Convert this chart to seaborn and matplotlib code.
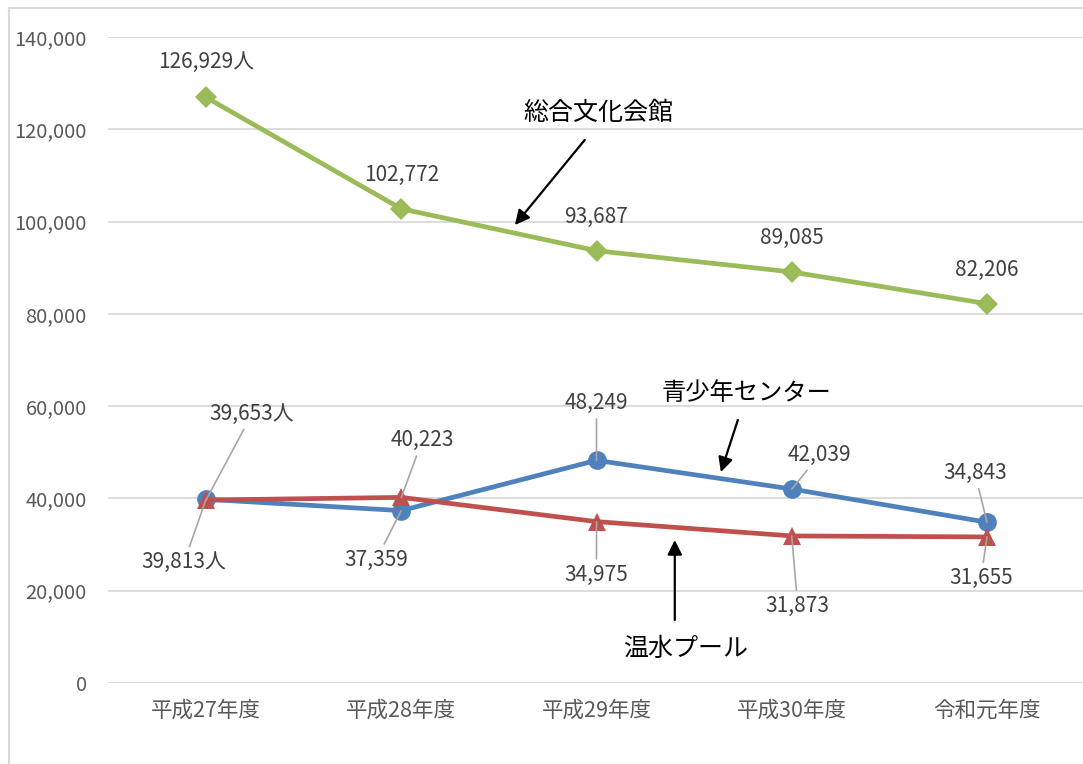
import matplotlib
matplotlib.use("Agg")
import matplotlib.pyplot as plt
from matplotlib.lines import Line2D
from matplotlib.ticker import StrMethodFormatter
import seaborn as sns
import pandas as pd

# ---- data ----
years = ["平成27年度", "平成28年度", "平成29年度", "平成30年度", "令和元年度"]
youth_center = [39813, 37359, 48249, 42039, 34843]      # 青少年センター
heated_pool = [39653, 40223, 34975, 31873, 31655]       # 温水プール
culture_hall = [126929, 102772, 93687, 89085, 82206]    # 総合文化会館
series_names = ["青少年センター", "温水プール", "総合文化会館"]
y_ticks = [0, 20000, 40000, 60000, 80000, 100000, 120000, 140000]

sns.set_theme(style="white")
plt.rcParams["font.family"] = ["Noto Sans CJK JP", "DejaVu Sans"]

df = pd.DataFrame({
    "year": years * 3,
    "value": youth_center + heated_pool + culture_hall,
    "facility": [series_names[0]] * 5 + [series_names[1]] * 5 + [series_names[2]] * 5,
})

colors = {series_names[0]: "#4F81BD", series_names[1]: "#C0504D", series_names[2]: "#9BBB59"}
markers = {series_names[0]: "o", series_names[1]: "^", series_names[2]: "D"}
msizes = {series_names[0]: 13.5, series_names[1]: 13.5, series_names[2]: 11}

fig = plt.figure(figsize=(10.83, 7.64), dpi=100)
ax = fig.add_axes([108.4 / 1083, 1 - 683 / 764, 976.2 / 1083, 646 / 764])

for name in series_names:
    sub = df[df["facility"] == name]
    sns.lineplot(data=sub, x="year", y="value", color=colors[name], marker=markers[name],
                 markersize=msizes[name], markeredgewidth=0, linewidth=3.4,
                 sort=False, errorbar=None, legend=False, ax=ax)

ax.set_xlim(-0.5, 4.5)
ax.set_ylim(0, 140000)
ax.set_yticks(y_ticks)
ax.yaxis.set_major_formatter(StrMethodFormatter("{x:,.0f}"))
ax.grid(axis="y", color="#D9D9D9", linewidth=1.3)
ax.grid(axis="x", visible=False)
ax.set_axisbelow(True)
for s in ax.spines.values():
    s.set_visible(False)
ax.tick_params(axis="y", length=0, pad=15.5, labelsize=14.5, labelcolor="#595959")
ax.tick_params(axis="x", length=0, pad=12, labelsize=15.5, labelcolor="#595959")
ax.set_xlabel("")
ax.set_ylabel("")

# ---- data labels (offsets in pixels, y up) ----
label_color = "#404040"
leader = dict(arrowstyle="-", color="#A6A6A6", lw=1.2, shrinkA=1, shrinkB=0)

green_off = [(0, 35), (0, 34), (0, 34), (0, 34), (0, 34)]
blue_off = [(-22, -63), (-25, -49), (0, 57), (28, 34), (-12, 49)]
red_off = [(46, 86), (21, 57), (0, -53), (6, -70), (-6, -41)]

def fmt(v, i):
    return f"{v:,}" + ("人" if i == 0 else "")

lab_fs = 15
for i, v in enumerate(culture_hall):
    ax.annotate(fmt(v, i), xy=(years[i], v), xytext=green_off[i], textcoords="offset pixels",
                ha="center", va="center", fontsize=lab_fs, color=label_color, zorder=6)
for i, v in enumerate(youth_center):
    ax.annotate(fmt(v, i), xy=(years[i], v), xytext=blue_off[i], textcoords="offset pixels",
                ha="center", va="center", fontsize=lab_fs, color=label_color, zorder=6,
                arrowprops=leader)
for i, v in enumerate(heated_pool):
    ax.annotate(fmt(v, i), xy=(years[i], v), xytext=red_off[i], textcoords="offset pixels",
                ha="center", va="center", fontsize=lab_fs, color=label_color, zorder=6,
                arrowprops=leader)

# ---- callout arrows with series names ----
arrow = dict(arrowstyle="-|>", color="black", lw=1.6, mutation_scale=22, shrinkA=0, shrinkB=0)
ax.annotate("", xy=(1.582, 99250), xytext=(1.94, 117700), arrowprops=arrow, zorder=7)
ax.annotate("", xy=(2.637, 45700), xytext=(2.724, 57000), arrowprops=arrow, zorder=7)
ax.annotate("", xy=(2.401, 31000), xytext=(2.401, 13650), arrowprops=arrow, zorder=7)
ax.text(2.007, 123500, series_names[2], ha="center", va="center", fontsize=18, color="black", zorder=7)
ax.text(2.770, 62840, series_names[0], ha="center", va="center", fontsize=17.5, color="black", zorder=7)
ax.text(2.458, 7370, series_names[1], ha="center", va="center", fontsize=18, color="black", zorder=7)

# ---- outer frame (partially visible) ----
fig.add_artist(Line2D([8.5 / 1083, 8.5 / 1083], [0, 1 - 7.5 / 764], transform=fig.transFigure,
                      color="#D9D9D9", lw=1.5))
fig.add_artist(Line2D([8.5 / 1083, 1], [1 - 7.5 / 764, 1 - 7.5 / 764], transform=fig.transFigure,
                      color="#D9D9D9", lw=1.5))

fig.savefig("out.png", dpi=100)
